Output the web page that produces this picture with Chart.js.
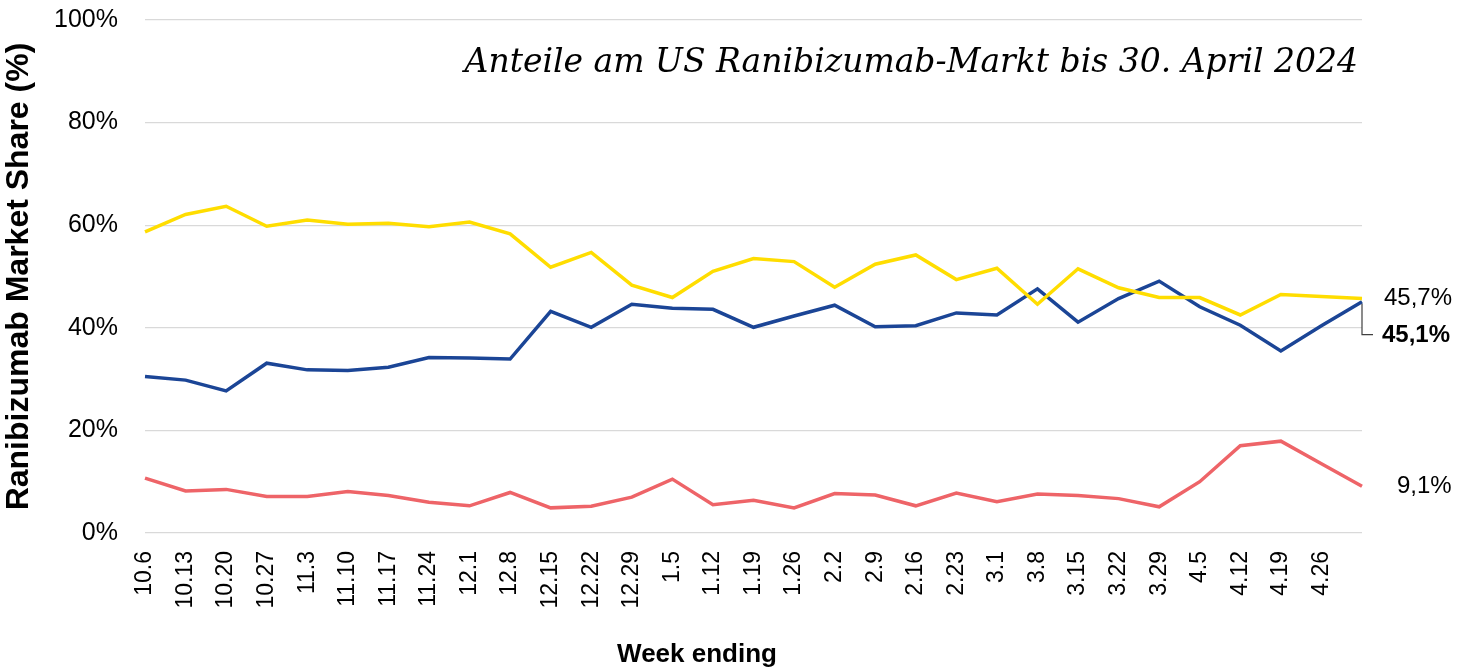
<!DOCTYPE html>
<html>
<head>
<meta charset="utf-8">
<script src="https://cdn.jsdelivr.net/npm/chart.js@4/dist/chart.umd.min.js"></script>
<style>
  html, body { margin: 0; padding: 0; background: #fff; }
  #wrap { width: 1458px; height: 668px; }
</style>
</head>
<body>
<div id="wrap"><canvas id="chart" width="1458" height="668"></canvas></div>
<script>
// week ending labels (last week has no label in the original)
var weeks = [
  "10.6", "10.13", "10.20", "10.27", "11.3", "11.10", "11.17", "11.24",
  "12.1", "12.8", "12.15", "12.22", "12.29", "1.5", "1.12", "1.19",
  "1.26", "2.2", "2.9", "2.16", "2.23", "3.1", "3.8", "3.15",
  "3.22", "3.29", "4.5", "4.12", "4.19", "4.26", ""
];

var yellowShare = [
  58.7, 62.1, 63.7, 59.8, 61.0, 60.2, 60.4, 59.7, 60.6, 58.3,
  51.8, 54.7, 48.3, 45.9, 51.0, 53.5, 52.9, 47.9, 52.4, 54.2,
  49.4, 51.6, 44.6, 51.5, 47.8, 45.9, 45.9, 42.5, 46.5, 46.1, 45.7
];
var blueShare = [
  30.5, 29.8, 27.7, 33.1, 31.8, 31.7, 32.3, 34.2, 34.1, 33.9,
  43.2, 40.1, 44.6, 43.8, 43.6, 40.1, 42.3, 44.4, 40.2, 40.4,
  42.9, 42.5, 47.6, 41.1, 45.7, 49.1, 44.1, 40.5, 35.5, 40.4, 45.1
];
var redShare = [
  10.7, 8.2, 8.5, 7.1, 7.1, 8.1, 7.3, 6.0, 5.3, 7.9,
  4.9, 5.2, 7.0, 10.5, 5.5, 6.4, 4.9, 7.7, 7.4, 5.3,
  7.8, 6.1, 7.6, 7.3, 6.7, 5.1, 10.0, 17.0, 17.9, 13.5, 9.1
];

var yTicks = [0, 20, 40, 60, 80, 100];
var titleText = "Anteile am US Ranibizumab-Markt bis 30. April 2024";
var xTitle = "Week ending";

var YELLOW = "#FFDD00";
var BLUE = "#1B4596";
var RED = "#EE6468";
var SANS = '"Liberation Sans", Arial, sans-serif';

function pct(v) { return v.toFixed(1).replace('.', ',') + '%'; }

// title, x axis title and end-of-line labels
var annotations = {
  id: 'annotations',
  afterDatasetsDraw: function(chart) {
    var ctx = chart.ctx;
    var x = chart.scales.x, y = chart.scales.y;
    var last = weeks.length - 1;
    var px = x.getPixelForValue(last);

    ctx.save();
    ctx.fillStyle = '#000';
    ctx.font = 'italic 33px "DejaVu Serif", serif';
    ctx.textAlign = 'right';
    ctx.textBaseline = 'alphabetic';
    ctx.fillText(titleText, chart.chartArea.right - 4, 72);

    ctx.textAlign = 'center';
    ctx.font = 'bold 26px ' + SANS;
    ctx.fillText(xTitle, 697, 662);

    ctx.textAlign = 'left';
    ctx.textBaseline = 'middle';
    ctx.font = '24px ' + SANS;
    ctx.fillText(pct(yellowShare[last]), px + 22, y.getPixelForValue(yellowShare[last]));
    ctx.fillText(pct(redShare[last]), px + 35, y.getPixelForValue(redShare[last]));

    var by = y.getPixelForValue(blueShare[last]);
    ctx.font = 'bold 24px ' + SANS;
    ctx.fillText(pct(blueShare[last]), px + 20, by + 34);

    // leader line
    ctx.strokeStyle = '#404040';
    ctx.lineWidth = 1.2;
    ctx.beginPath();
    ctx.moveTo(px, by + 2);
    ctx.lineTo(px, by + 33);
    ctx.lineTo(px + 11, by + 33);
    ctx.stroke();
    ctx.restore();
  }
};

var lineStyle = function(label, values, color) {
  return {
    label: label,
    data: values,
    borderColor: color,
    backgroundColor: color,
    borderWidth: 3.5,
    pointRadius: 0,
    tension: 0,
    fill: false
  };
};

new Chart(document.getElementById('chart'), {
  type: 'line',
  data: {
    labels: weeks,
    datasets: [
      lineStyle('Red', redShare, RED),
      lineStyle('Yellow', yellowShare, YELLOW),
      lineStyle('Blue', blueShare, BLUE)
    ]
  },
  options: {
    responsive: false,
    animation: false,
    layout: { padding: { top: 20, right: 96, left: 0, bottom: 0 } },
    plugins: {
      legend: { display: false },
      tooltip: { enabled: false }
    },
    scales: {
      x: {
        offset: false,
        grid: { display: false },
        border: { display: false },
        ticks: {
          autoSkip: false,
          minRotation: 90,
          maxRotation: 90,
          padding: 10,
          color: '#000',
          font: { family: SANS, size: 23 }
        },
        afterFit: function(scale) {
          scale.height = 135;
          scale.paddingTop = 0;
          scale.paddingBottom = 0;
        }
      },
      y: {
        min: 0,
        max: 100,
        afterBuildTicks: function(scale) {
          scale.ticks = yTicks.map(function(v) { return { value: v }; });
        },
        grid: { color: '#d9d9d9', lineWidth: 1.2, drawTicks: false },
        border: { display: false },
        ticks: {
          padding: 27,
          color: '#000',
          font: { family: SANS, size: 25 },
          callback: function(v) { return v + '%'; }
        },
        title: {
          display: true,
          text: 'Ranibizumab Market Share (%)',
          color: '#000',
          padding: { top: 0, bottom: 2 },
          font: { family: SANS, size: 32, weight: 'bold' }
        },
        afterFit: function(scale) {
          scale.width = 145;
          scale.paddingTop = 0;
          scale.paddingBottom = 0;
        }
      }
    }
  },
  plugins: [annotations]
});
</script>
</body>
</html>
